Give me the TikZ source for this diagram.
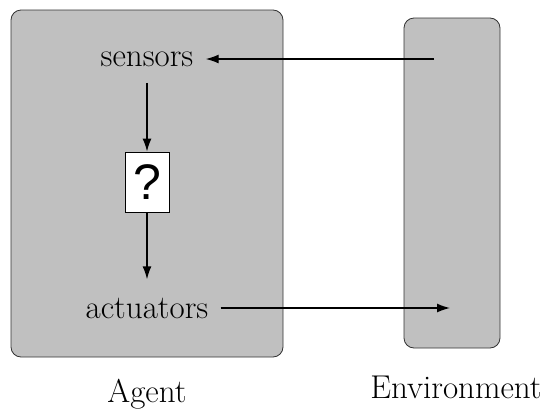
\documentclass[tikz,border=0pt]{standalone}
\usepackage{fontspec}
\newfontfamily\qfont{Liberation Sans}
\usetikzlibrary{arrows.meta}
\definecolor{boxgray}{RGB}{192,192,192}
\begin{document}
\begin{tikzpicture}[x=0.5pt,y=-0.5pt,
  panel/.style={draw=black!80,line width=0.4pt,fill=boxgray,rounded corners=5pt},
  lbl/.style={font=\fontsize{16.5}{19}\selectfont,inner sep=0pt},
  conn/.style={line width=0.7pt,-{Latex[length=6.5pt,width=4.5pt]}}]
\useasboundingbox (0,0) rectangle (541,418);
\draw[panel] (11,10) rectangle (283,357);
\draw[panel] (404,18) rectangle (500,348);
\node[lbl] (sensors) at (147,59) {sensors};
\node[lbl] (act) at (147,308) {actuators};
\node[draw,fill=white,line width=0.4pt,minimum width=22pt,minimum height=30pt,inner sep=0pt,font=\qfont\fontsize{25}{27}\selectfont] (q) at (147,182) {?};
\node[lbl] (agent) at (147,394) {Agent};
\node[lbl] (env) at (456,387) {Environment};
\coordinate (ein) at (434,59);
\coordinate (eout) at (450,308);
\draw[conn] (ein) -- ([xshift=6pt]sensors.east);
\draw[conn] ([yshift=-8pt]sensors.south) -- (q.north);
\draw[conn] (q.south) -- ([yshift=9pt]act.north);
\draw[conn] ([xshift=6pt]act.east) -- (eout);
\end{tikzpicture}
\end{document}
